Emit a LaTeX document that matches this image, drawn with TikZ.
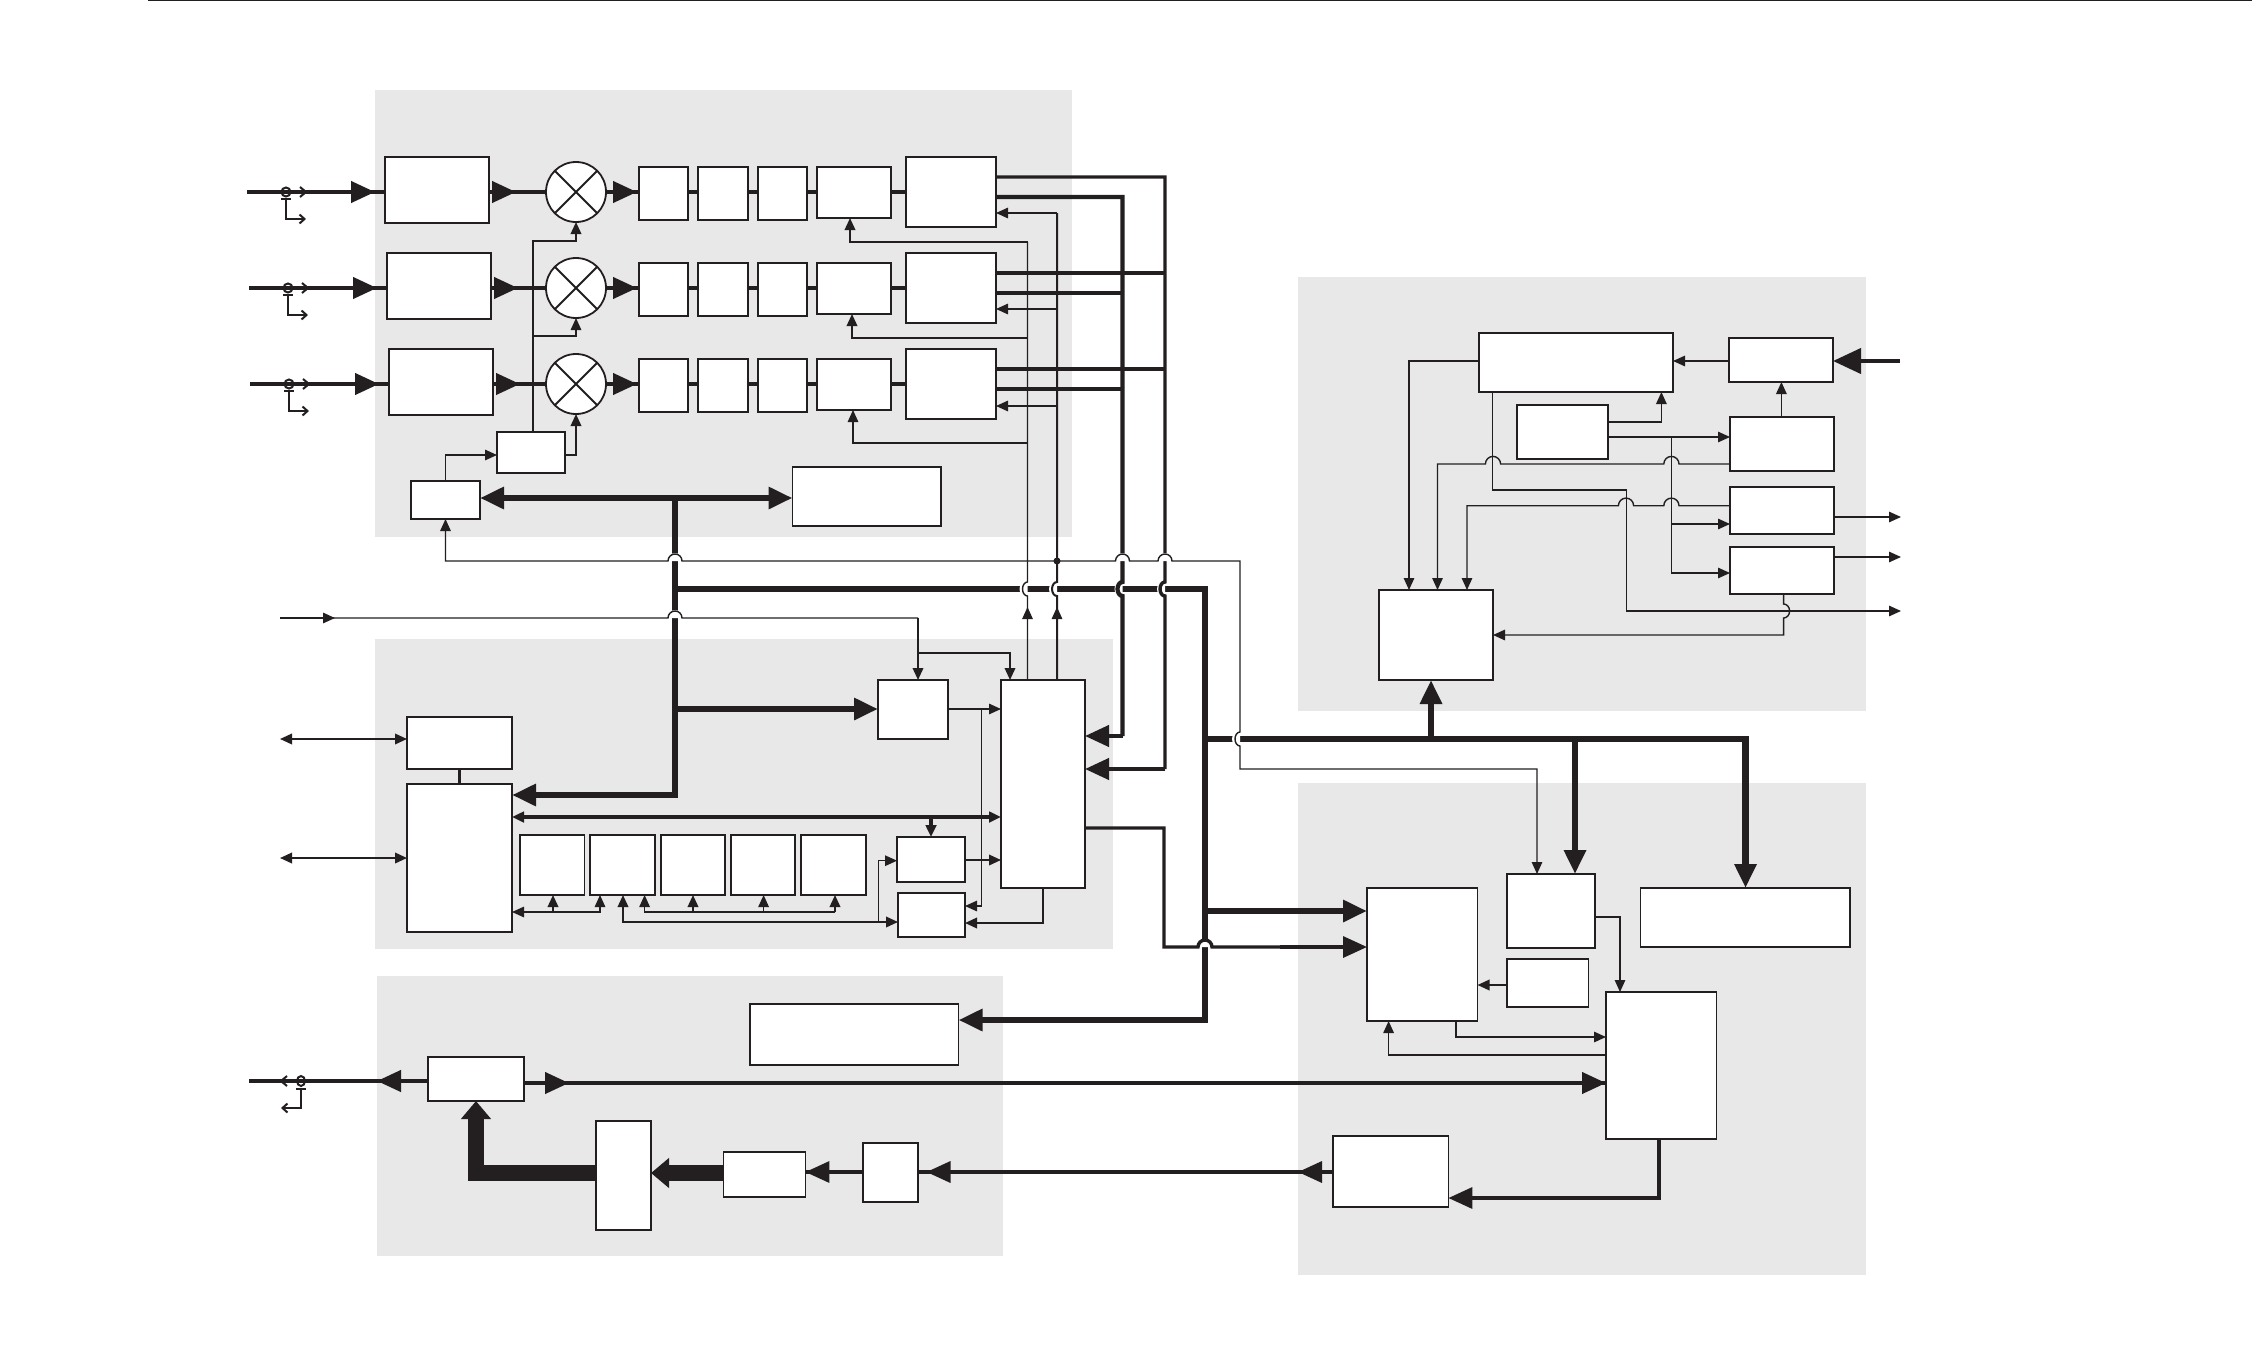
\documentclass[tikz,border=0pt]{standalone}
\usetikzlibrary{arrows.meta}
\definecolor{ink}{HTML}{231F20}
\definecolor{pan}{HTML}{E8E8E8}
\tikzset{
  tS/.tip={Triangle[length=12pt,width=10.5pt]},
  tB/.tip={Triangle[length=24pt,width=21pt]},
  tH/.tip={Triangle[length=28pt,width=25pt]},
  tX/.tip={Triangle[length=18pt,width=29pt]},
  bx/.style={draw=ink,fill=white,line width=1.8pt,inner sep=0pt,outer sep=0pt,rectangle},
  mixer/.style={draw=ink,fill=white,line width=1.8pt,circle,inner sep=0pt,outer sep=0pt,minimum size=60pt},
  w1/.style={draw=ink,line width=1.4pt},
  w2/.style={draw=ink,line width=2pt},
  w3/.style={draw=ink,line width=3.4pt},
  w4/.style={draw=ink,line width=4.2pt},
  w6/.style={draw=ink,line width=6.5pt},
  w16/.style={draw=ink,line width=16pt},
}
\newcommand{\bxn}[5]{\pgfmathsetmacro{\bxw}{#4-#2}\pgfmathsetmacro{\bxh}{#5-#3}\pgfmathsetmacro{\bxx}{(#4+#2)/2}\pgfmathsetmacro{\bxy}{(#5+#3)/2}\node[bx,minimum width=\bxw pt,minimum height=\bxh pt] (#1) at (\bxx,\bxy) {};}
\newcommand{\pnl}[4]{\fill[pan] (#1,#2) rectangle (#3,#4);}
% white half-disks that open a gap where a line hops over another
\newcommand{\wU}[2]{\fill[white] (#1-8,#2) arc[start angle=180,end angle=0,radius=8pt] -- cycle;}
\newcommand{\wL}[2]{\fill[white] (#1,#2-9) arc[start angle=90,end angle=270,x radius=8pt,y radius=9pt] -- cycle;}
% measuring taps on the input and output lines
\newcommand{\tapR}[2]{%
  \draw[w2] (#1,#2) ellipse (4.5pt and 4.5pt);
  \draw[w1] (#1-5,#2+7) -- (#1+5,#2+7);
  \draw[w2,-{Straight Barb[length=5pt,width=9pt]}] (#1,#2+7) -- (#1,#2+27) -- (#1+20,#2+27);
  \draw[w2] (#1+14,#2-5) -- (#1+20,#2) -- (#1+14,#2+5);}
\newcommand{\tapL}[2]{%
  \draw[w2] (#1,#2) ellipse (4pt and 5pt);
  \draw[w1] (#1-5,#2+8) -- (#1+5,#2+8);
  \draw[w2,-{Straight Barb[length=5pt,width=9pt]}] (#1,#2+8) -- (#1,#2+27) -- (#1-20,#2+27);
  \draw[w2] (#1-14,#2-5) -- (#1-20,#2) -- (#1-14,#2+5);}
\begin{document}
\begin{tikzpicture}[x=1pt,y=-1pt]
\path[use as bounding box] (0,0) rectangle (2252,1354);
\draw[ink,line width=1.5pt] (148,0.6) -- (2252,0.6);
% panels
\pnl{375}{90}{1072}{537}
\pnl{375}{639}{1113}{949}
\pnl{377}{976}{1002.5}{1256}
\pnl{1298}{277}{1866}{711}
\pnl{1298}{783}{1866}{1275}
% row boxes
\bxn{inbox1}{385}{157}{489}{223}
\bxn{inbox2}{387}{253}{491}{319}
\bxn{inbox3}{389}{349}{493}{415}
\node[mixer] (mix1) at (576,192) {};
\node[mixer] (mix2) at (576,288) {};
\node[mixer] (mix3) at (576,384) {};
\bxn{sa1}{639}{167}{688}{220}
\bxn{sb1}{698}{167}{748}{220}
\bxn{sc1}{758}{167}{807}{220}
\bxn{fil1}{817}{167}{891}{218}
\bxn{out1}{906}{157}{996}{227}
\bxn{sa2}{639}{263}{688}{316}
\bxn{sb2}{698}{263}{748}{316}
\bxn{sc2}{758}{263}{807}{316}
\bxn{fil2}{817}{263}{891}{314}
\bxn{out2}{906}{253}{996}{323}
\bxn{sa3}{639}{359}{688}{412}
\bxn{sb3}{698}{359}{748}{412}
\bxn{sc3}{758}{359}{807}{412}
\bxn{fil3}{817}{359}{891}{410}
\bxn{out3}{906}{349}{996}{419}
\bxn{ctl}{497}{432}{565}{473}
\bxn{sm}{411}{481}{480}{519}
\bxn{mem}{792.5}{467}{941}{526}
% middle panel boxes
\bxn{usb}{407}{717}{512}{769}
\bxn{cpu}{407}{784}{512}{932}
\bxn{pa}{520}{835}{584.5}{895}
\bxn{pb}{590}{835}{655}{895}
\bxn{pc}{660.7}{835}{725}{895}
\bxn{pd}{731}{835}{795}{895}
\bxn{pe}{801}{835}{866}{895}
\bxn{dsp}{878}{680}{948}{739}
\bxn{upr}{897}{837}{965}{882}
\bxn{lwr}{898}{893}{965}{937}
\bxn{main}{1001}{680}{1085}{888}
% lower left panel boxes
\bxn{ram}{749.6}{1004}{958.5}{1065}
\bxn{vv}{428}{1057}{524}{1101}
\bxn{ww}{596}{1121}{651}{1230}
\bxn{xx}{723.5}{1152}{805.4}{1197}
\bxn{yy}{863}{1143}{918}{1202}
% lower right panel boxes
\bxn{pp}{1367}{888}{1477.5}{1021}
\bxn{qq}{1507}{874}{1595}{948}
\bxn{rr}{1640.5}{888}{1850}{947}
\bxn{ss}{1507}{959}{1588.5}{1007}
\bxn{tt}{1606}{992}{1716.5}{1139}
\bxn{uu}{1332.6}{1136}{1448.4}{1207}
% upper right panel boxes
\bxn{ra}{1479}{333}{1673}{392}
\bxn{rb}{1728.6}{338}{1833}{382}
\bxn{rc}{1517}{405}{1608}{459}
\bxn{rd}{1730}{417}{1834}{471}
\bxn{re}{1730}{487}{1834}{534}
\bxn{rf}{1730}{547}{1834}{594}
\bxn{rg}{1378.6}{590}{1493}{680}
% free ends
\coordinate (in1) at (247,192);
\coordinate (in2) at (249,288);
\coordinate (in3) at (250,384);
\coordinate (clk) at (280,618);
\coordinate (io1) at (280,739);
\coordinate (io2) at (280,858);
\coordinate (rfout) at (249,1081);
\coordinate (rin) at (1900,361);
\coordinate (ro1) at (1901,517);
\coordinate (ro2) at (1901,557);
\coordinate (ro3) at (1901,611);
% crosses in the mixers and the three rows
\foreach \r in {1,2,3} {
  \draw[w2] (mix\r.45) -- (mix\r.225);
  \draw[w2] (mix\r.135) -- (mix\r.315);
  \draw[w4] (in\r) -- (inbox\r.west |- in\r);
  \draw[w4,-{tB}] (in\r) -- ([xshift=-10pt]inbox\r.west |- in\r);
  \draw[w4] (inbox\r.east |- in\r) -- (mix\r.west);
  \draw[w4,-{tB}] (inbox\r.east |- in\r) -- ([xshift=27pt]inbox\r.east |- in\r);
  \draw[w4] (mix\r.east) -- (sa\r.west |- mix\r);
  \draw[w4,-{tB}] (mix\r.east) -- ([xshift=-2pt]sa\r.west |- mix\r);
  \draw[w3] (sa\r.east |- mix\r) -- (sb\r.west |- mix\r);
  \draw[w3] (sb\r.east |- mix\r) -- (sc\r.west |- mix\r);
  \draw[w3] (sc\r.east |- mix\r) -- (fil\r.west |- mix\r);
  \draw[w3] (fil\r.east |- mix\r) -- (out\r.west |- mix\r);
}
\tapR{286}{192}
\tapR{288}{288}
\tapR{289}{384}
% local oscillator distribution
\draw[w2,-{tS}] (533,0 |- ctl.north) -- (533,241) -- (576,241) -- (mix1.south);
\draw[w1,-{tS}] (533,336) -- (576,336) -- (mix2.south);
\draw[w2,-{tS}] (ctl.east |- 0,455) -- (576,455) -- (mix3.south);
\draw[w1,-{tS}] (sm.north) -- (sm.north |- 0,455) -- (ctl.west |- 0,455);
% thick buses
\draw[w6,{tB}-{tB}] (sm.east |- 0,498) -- (mem.west |- 0,498);
\draw[w6,-{tB}] (675,498) -- (675,795) -- (cpu.east |- 0,795);
\draw[w6,-{tB}] (675,709) -- (dsp.west |- 0,709);
\draw[w6,-{tB}] (675,589) -- (1205,589) -- (1205,1020) -- (ram.east |- 0,1020);
\draw[w6,-{tB}] (1205,739) -- (1745.5,739) -- (1745.5,0 |- rr.north);
\draw[w6,-{tB}] (1575,739) -- (1575,0 |- qq.north);
\draw[w6,-{tB}] (1431,739) -- (1431,0 |- rg.south);
\draw[w6,-{tB}] (1205,911) -- (pp.west |- 0,911);
% left-hand gaps in the thick buses
\wL{1027.5}{589}\wL{1057}{589}\wL{1122.5}{589}\wL{1165}{589}\wL{1240}{739}
% row outputs into the main block
\draw[w3] (out1.east |- 0,177) -- (1165,177) -- (1165,582) arc[start angle=90,end angle=270,x radius=5pt,y radius=7pt] -- (1165,769);
\draw[w4,-{tB}] (1165,769) -- (main.east |- 0,769);
\draw[w4] (out1.east |- 0,197) -- (1122.5,197) -- (1122.5,582) arc[start angle=90,end angle=270,x radius=5pt,y radius=7pt] -- (1122.5,736);
\draw[w4,-{tB}] (1122.5,736) -- (main.east |- 0,736);
\draw[w3] (out2.east |- 0,273) -- (1165,273);
\draw[w4] (out2.east |- 0,293) -- (1122.5,293);
\draw[w3] (out3.east |- 0,369) -- (1165,369);
\draw[w4] (out3.east |- 0,389) -- (1122.5,389);
% feedback verticals
\draw[w1] (1027.5,242) -- (1027.5,582) arc[start angle=90,end angle=270,x radius=5pt,y radius=7pt] -- (1027.5,0 |- main.north);
\draw[w1,-{tS}] (1027.5,640) -- (1027.5,607);
\draw[w2,-{tS}] (1027.5,242) -- (850,242) -- (850,0 |- fil1.south);
\draw[w2,-{tS}] (1027.5,338) -- (852,338) -- (852,0 |- fil2.south);
\draw[w1,-{tS}] (1027.5,443) -- (853,443) -- (853,0 |- fil3.south);
\draw[w2] (1057,213) -- (1057,582) arc[start angle=90,end angle=270,x radius=5pt,y radius=7pt] -- (1057,0 |- main.north);
\draw[w1,-{tS}] (1057,640) -- (1057,607);
\draw[w1,-{tS}] (1057,213) -- (out1.east |- 0,213);
\draw[w1,-{tS}] (1057,309) -- (out2.east |- 0,309);
\draw[w1,-{tS}] (1057,406) -- (out3.east |- 0,406);
% hops
\wU{675}{561}\wU{675}{618}\wU{1122.5}{561}\wU{1165}{561}\wU{1205}{947}
\draw[w1,{tS}-{tS}] (sm.south) -- (sm.south |- 0,561) -- (668,561) arc[start angle=180,end angle=0,radius=7pt] -- (1115.5,561) arc[start angle=180,end angle=0,radius=7pt] -- (1158,561) arc[start angle=180,end angle=0,radius=7pt] -- (1240,561) -- (1240,732) arc[start angle=90,end angle=270,x radius=5pt,y radius=7pt] -- (1240,769) -- (1537,769) -- (1537,0 |- qq.north);
\fill[ink] (1057,561) circle (3.5pt);
\draw[w1] (clk) -- (668,618) arc[start angle=180,end angle=0,radius=7pt] -- (918,618);
\draw[w1,-{tS}] (clk) -- (335,618);
\draw[w2,-{tS}] (918,618) -- (918,0 |- dsp.north);
\draw[w2,-{tS}] (918,653) -- (1010,653) -- (1010,0 |- main.north);
% middle panel
\draw[w2,{tS}-{tS}] (io1) -- (usb.west |- io1);
\draw[w2,{tS}-{tS}] (io2) -- (cpu.west |- io2);
\draw[w3] (usb.south) -- (cpu.north);
\draw[w3,{tS}-{tS}] (cpu.east |- 0,817) -- (main.west |- 0,817);
\draw[w3,-{tS}] (931,817) -- (931,0 |- upr.north);
\draw[w1,-{tS}] (dsp.east |- 0,709) -- (main.west |- 0,709);
\draw[w1,-{tS}] (981.7,709) -- (981.7,906) -- (lwr.east |- 0,906);
\draw[w2,-{tS}] (upr.east |- 0,860) -- (main.west |- 0,860);
\draw[w2,-{tS}] (main.south) -- (main.south |- 0,923) -- (lwr.east |- 0,923);
\draw[w1,{tS}-{tS}] (600,0 |- pb.south) -- (600,912) -- (cpu.east |- 0,912);
\draw[w2,-{tS}] (553,912) -- (553,0 |- pa.south);
\draw[w1,-{tS}] (835,912) -- (644.6,912) -- (644.6,0 |- pb.south);
\draw[w2,-{tS}] (693,912) -- (693,0 |- pc.south);
\draw[w1,-{tS}] (763.6,912) -- (763.6,0 |- pd.south);
\draw[w2,-{tS}] (835,912) -- (835,0 |- pe.south);
\draw[w2,{tS}-{tS}] (623,0 |- pb.south) -- (623,922) -- (lwr.west |- 0,922);
\draw[w1,-{tS}] (878.7,922) -- (878.7,860.7) -- (upr.west |- 0,860.7);
% main output to the lower right
\draw[w3] (main.east |- 0,828) -- (1164,828) -- (1164,947) -- (1198,947) arc[start angle=180,end angle=0,radius=7pt] -- (1280,947);
\draw[w3,-{tB}] (1280,947) -- (pp.west |- 0,947);
% lower left panel
\draw[w4] (rfout) -- (vv.west |- rfout);
\draw[w4,-{tB}] (vv.west |- rfout) -- (377,1081);
\tapL{301}{1081}
\draw[w4] (vv.east |- 0,1083) -- (tt.west |- 0,1083);
\draw[w4,-{tB}] (vv.east |- 0,1083) -- (569,1083);
\draw[w4,-{tB}] (569,1083) -- (tt.west |- 0,1083);
\draw[w16,-{tX}] (ww.west |- 0,1173) -- (476,1173) -- (vv.south);
\draw[w16,-{tX}] (xx.west |- 0,1173) -- (ww.east |- 0,1173);
\draw[w3] (uu.west |- 0,1172) -- (yy.east |- 0,1172);
\draw[w3,-{tB}] (uu.west |- 0,1172) -- (1298,1172);
\draw[w3,-{tB}] (1298,1172) -- (926.5,1172);
\draw[w3] (yy.west |- 0,1172) -- (xx.east |- 0,1172);
\draw[w3,-{tB}] (yy.west |- 0,1172) -- (xx.east |- 0,1172);
% lower right panel
\draw[w2,-{tS}] (ss.west |- 0,985) -- (pp.east |- 0,985);
\draw[w1,-{tS}] (qq.east |- 0,917) -- (1620,917) -- (1620,0 |- tt.north);
\draw[w1,-{tS}] (1456,0 |- pp.south) -- (1456,1037) -- (tt.west |- 0,1037);
\draw[w1,-{tS}] (tt.west |- 0,1055) -- (1388.6,1055) -- (1388.6,0 |- pp.south);
\draw[w3,-{tB}] (1659,0 |- tt.south) -- (1659,1198) -- (uu.east |- 0,1198);
% upper right panel
\draw[w4,-{tH}] (rin) -- (rb.east |- rin);
\draw[w1,-{tS}] (rb.west |- 0,361) -- (ra.east |- 0,361);
\draw[w1,-{tS}] (rd.north -| 1781.4,0) -- (1781.4,0 |- rb.south);
\draw[w1,-{tS}] (rc.east |- 0,422) -- (1661.4,422) -- (1661.4,0 |- ra.south);
\draw[w1,-{tS}] (rc.east |- 0,437) -- (rd.west |- 0,437);
\draw[w1] (1671.4,437) -- (1671.4,573);
\draw[w1,-{tS}] (1671.4,524) -- (re.west |- 0,524);
\draw[w1,-{tS}] (1671.4,573) -- (rf.west |- 0,573);
\draw[w1,-{tS}] (ra.west |- 0,361) -- (1409,361) -- (1409,0 |- rg.north);
\draw[w1,-{tS}] (rd.west |- 0,464) -- (1679,464) arc[start angle=0,end angle=180,radius=7.6pt] -- (1500.6,464) arc[start angle=0,end angle=180,radius=7.6pt] -- (1437.5,464) -- (1437.5,0 |- rg.north);
\draw[w1,-{tS}] (re.west |- 0,505.7) -- (1679,505.7) arc[start angle=0,end angle=180,radius=7.6pt] -- (1633.6,505.7) arc[start angle=0,end angle=180,radius=7.6pt] -- (1467,505.7) -- (1467,0 |- rg.north);
\draw[w1,-{tS}] (1492.5,0 |- ra.south) -- (1492.5,490) -- (1626.4,490) -- (1626.4,611) -- (ro3);
\draw[w1,-{tS}] (1783.6,0 |- rf.south) -- (1783.6,604) arc[start angle=90,end angle=-90,x radius=6pt,y radius=7pt] -- (1783.6,635) -- (rg.east |- 0,635);
\draw[w1,-{tS}] (re.east |- ro1) -- (ro1);
\draw[w1,-{tS}] (rf.east |- ro2) -- (ro2);
\end{tikzpicture}
\end{document}
